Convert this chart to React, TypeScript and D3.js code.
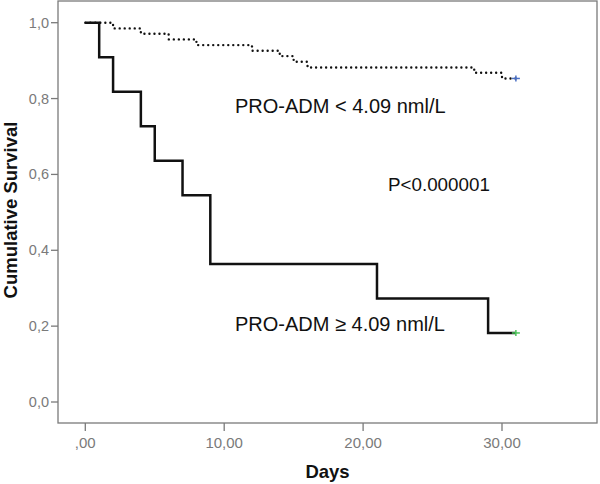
import React from "react";
import * as d3 from "d3";

const highDays = [0, 1, 2, 4, 5, 7, 9, 21, 29, 31];
const highSurv = [1, 0.909, 0.818, 0.727, 0.636, 0.545, 0.364, 0.273, 0.182, 0.182];

const lowDays = [0, 2, 4, 6, 8, 12, 14, 15, 16, 28, 30, 31];
const lowSurv = [1, 0.985, 0.971, 0.956, 0.941, 0.926, 0.912, 0.897, 0.882, 0.868, 0.853, 0.853];

const xTicks = [0, 10, 20, 30];
const xTickLabels = [",00", "10,00", "20,00", "30,00"];
const yTicks = [0, 0.2, 0.4, 0.6, 0.8, 1.0];
const yTickLabels = ["0,0", "0,2", "0,4", "0,6", "0,8", "1,0"];

const labelLow = "PRO-ADM < 4.09 nml/L";
const labelHigh = "PRO-ADM \u2265 4.09 nml/L";
const pLabel = "P<0.000001";

const W = 600;
const H = 484;
const frame = { left: 58, right: 597, top: 1, bottom: 423 };
const FONT = "'Liberation Sans', Arial, sans-serif";

export default function App() {
  const x = d3.scaleLinear().domain([0, 30]).range([85.3, 502]);
  const y = d3.scaleLinear().domain([0, 1]).range([402, 22.7]);

  const line = d3
    .line<[number, number]>()
    .x((d) => x(d[0]))
    .y((d) => y(d[1]))
    .curve(d3.curveStepAfter);

  const highPts = highDays.map((d, i) => [d, highSurv[i]] as [number, number]);
  const lowPts = lowDays.map((d, i) => [d, lowSurv[i]] as [number, number]);

  const hiEnd = highPts[highPts.length - 1];
  const loEnd = lowPts[lowPts.length - 1];

  const grey = "#7a7a7a";

  return (
    <svg
      width={W}
      height={H}
      style={{ position: "absolute", left: 0, top: 0, background: "#fff" }}
      fontFamily={FONT}
    >
      <rect x={0} y={0} width={W} height={H} fill="#fff" />
      <rect
        x={frame.left}
        y={frame.top}
        width={frame.right - frame.left}
        height={frame.bottom - frame.top}
        fill="none"
        stroke={grey}
        strokeWidth={1.3}
      />
      {yTicks.map((t, i) => (
        <g key={"y" + i}>
          <line x1={frame.left - 7} x2={frame.left} y1={y(t)} y2={y(t)} stroke={grey} strokeWidth={1.3} />
          <text x={49} y={y(t)} dy="0.35em" textAnchor="end" fontSize={14.5} fill={grey}>
            {yTickLabels[i]}
          </text>
        </g>
      ))}
      {xTicks.map((t, i) => (
        <g key={"x" + i}>
          <line x1={x(t)} x2={x(t)} y1={frame.bottom} y2={frame.bottom + 8} stroke={grey} strokeWidth={1.3} />
          <text x={x(t)} y={448} textAnchor="middle" fontSize={15} fill={grey}>
            {xTickLabels[i]}
          </text>
        </g>
      ))}
      <text x={(frame.left + frame.right) / 2} y={478} textAnchor="middle" fontSize={18.5} fontWeight="bold" fill="#111">
        Days
      </text>
      <text
        transform="translate(16.5,210) rotate(-90)"
        textAnchor="middle"
        fontSize={18.5}
        fontWeight="bold"
        fill="#111"
      >
        Cumulative Survival
      </text>

      <path
        d={line(lowPts) || ""}
        fill="none"
        stroke="#111"
        strokeWidth={2.4}
        strokeLinecap="round"
        strokeDasharray="0.01 5"
      />
      <path d={line(highPts) || ""} fill="none" stroke="#111" strokeWidth={2.5} />

      <g stroke="#4a6fc4" strokeWidth={1.5}>
        <line x1={x(loEnd[0]) - 4} x2={x(loEnd[0]) + 4} y1={y(loEnd[1])} y2={y(loEnd[1])} />
        <line x1={x(loEnd[0])} x2={x(loEnd[0])} y1={y(loEnd[1]) - 3} y2={y(loEnd[1]) + 3} />
      </g>
      <g stroke="#4cc45a" strokeWidth={1.5}>
        <line x1={x(hiEnd[0]) - 4} x2={x(hiEnd[0]) + 4} y1={y(hiEnd[1])} y2={y(hiEnd[1])} />
        <line x1={x(hiEnd[0])} x2={x(hiEnd[0])} y1={y(hiEnd[1]) - 3} y2={y(hiEnd[1]) + 3} />
      </g>

      <text x={235} y={113} fontSize={20} fill="#111">
        {labelLow}
      </text>
      <text x={388} y={191} fontSize={18.8} fill="#111">
        {pLabel}
      </text>
      <text x={235} y={331} fontSize={20} fill="#111">
        {labelHigh}
      </text>
    </svg>
  );
}
